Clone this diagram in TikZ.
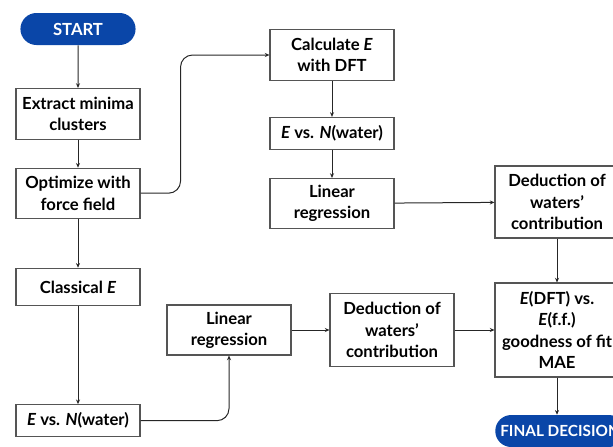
\documentclass[tikz,border=0pt]{standalone}
\usepackage{fontspec}
\setmainfont{Lato}
\usetikzlibrary{shapes,arrows.meta,positioning,calc}
\definecolor{startblue}{RGB}{10,70,168}
\definecolor{boxline}{RGB}{85,85,85}

\begin{document}
\begin{tikzpicture}[x=0.75pt, y=-0.75pt,
  font=\fontsize{12.5}{16}\selectfont\bfseries,
  box/.style={rectangle, draw=boxline, line width=0.8pt, align=center, minimum width=93pt, inner sep=1pt},
  term/.style={rounded rectangle, fill=startblue, text=white, minimum width=93pt, minimum height=24pt},
  flow/.style={-{Stealth[length=3.5pt,width=3pt]}, line width=0.75pt, draw=black!85}]
\useasboundingbox (0,0) rectangle (613,446);

% left column
\node[term] (start) at (78,29) {START};
\node[box, minimum height=38pt, below=32pt of start] (extr) {Extract minima\\clusters};
\node[box, minimum height=37.5pt, below=21pt of extr] (opt) {Optimize with\\force field};
\node[box, minimum height=28pt, below=36.75pt of opt] (classE) {Classical \textit{E}};
\node[box, minimum height=24pt, below=73.5pt of classE] (evn1) {\textit{E} vs. \textit{N}(water)};

% bottom row
\node[box, minimum height=37.5pt] (lr1) at (229,330) {Linear\\regression};
\node[box, minimum height=55pt] (ded1) at (392,330) {Deduction of\\waters’\\contribution};
\node[box, minimum height=70.5pt] (comp) at (557,330) {\textit{E}(DFT) vs.\\\textit{E}(f.f.)\\goodness of fit\\MAE};
\node[term, font=\fontsize{11.5}{14}\selectfont\bfseries, inner xsep=3pt, anchor=west] (final) at (495,431) {FINAL DECISION};

% DFT column
\node[box, minimum height=38pt] (calc) at (332,55) {Calculate \textit{E}\\with DFT};
\node[box, minimum height=24pt, below=27pt of calc] (evn2) {\textit{E} vs. \textit{N}(water)};
\node[box, minimum height=37.5pt, below=21pt of evn2] (lr2) {Linear\\regression};
\node[box, minimum height=54pt] (ded2) at (557,202) {Deduction of\\waters’\\contribution};

\draw[flow] (start) -- (extr);
\draw[flow] (extr) -- (opt);
\draw[flow] (opt) -- (classE);
\draw[flow] (classE) -- (evn1);
\draw[flow, rounded corners=9pt] (opt.east) -- ++(40,0) |- (calc.west);
\draw[flow, rounded corners=9pt] (evn1.east) -| (lr1.south);
\draw[flow] (lr1) -- (ded1);
\draw[flow] (ded1) -- (comp);
\draw[flow] (calc) -- (evn2);
\draw[flow] (evn2) -- (lr2);
\draw[flow] (lr2) -- (ded2);
\draw[flow] (ded2) -- (comp);
\draw[flow] (comp.south) -- (comp.south |- final.north);
\end{tikzpicture}
\end{document}
